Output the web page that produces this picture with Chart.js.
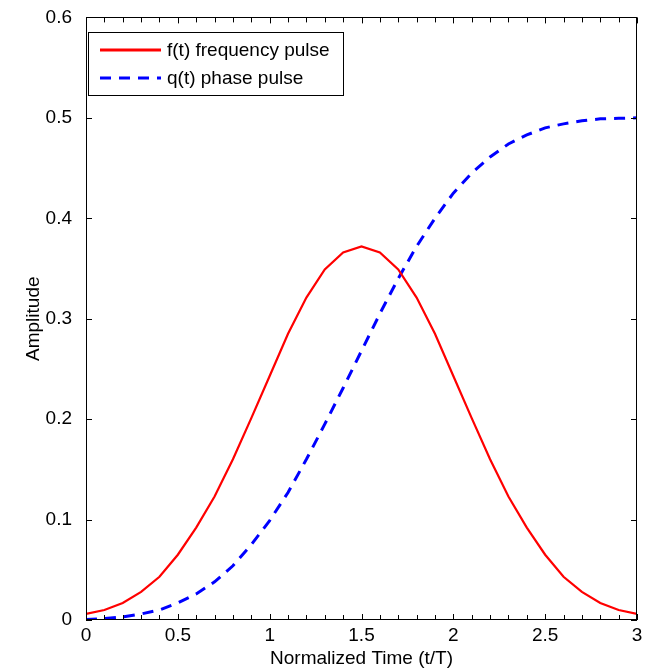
<!DOCTYPE html>
<html>
<head>
<meta charset="utf-8">
<script src="https://cdn.jsdelivr.net/npm/chart.js@4"></script>
<style>
  html, body { margin: 0; padding: 0; background: #fff; }
  canvas { display: block; }
</style>
</head>
<body>
<canvas id="chart" width="651" height="670"></canvas>
<script>
// normalized time t/T, sampled every 0.1
const times = [0, 0.1, 0.2, 0.3, 0.4, 0.5, 0.6, 0.7, 0.8, 0.9, 1, 1.1, 1.2, 1.3, 1.4, 1.5,
  1.6, 1.7, 1.8, 1.9, 2, 2.1, 2.2, 2.3, 2.4, 2.5, 2.6, 2.7, 2.8, 2.9, 3];

// f(t) frequency pulse
const freqPulse = [0.006, 0.010, 0.017, 0.028, 0.043, 0.065, 0.092, 0.123, 0.160, 0.201, 0.243,
  0.285, 0.321, 0.349, 0.366, 0.372, 0.366, 0.349, 0.321, 0.285, 0.243, 0.201, 0.160, 0.123,
  0.092, 0.065, 0.043, 0.028, 0.017, 0.010, 0.006];

// q(t) phase pulse
const phasePulse = [0.0005, 0.0014, 0.003, 0.006, 0.010, 0.017, 0.026, 0.038, 0.054, 0.075, 0.099,
  0.127, 0.160, 0.195, 0.231, 0.268, 0.305, 0.340, 0.372, 0.400, 0.425, 0.445, 0.461, 0.474,
  0.483, 0.490, 0.494, 0.497, 0.499, 0.4995, 0.5];

const seriesLabels = ['f(t) frequency pulse', 'q(t) phase pulse'];
const xTicks = [0, 0.5, 1, 1.5, 2, 2.5, 3];
const yTicks = [0, 0.1, 0.2, 0.3, 0.4, 0.5, 0.6];

const FONT = '"Liberation Sans", Arial, sans-serif';

// matlab style box: inward ticks on all four sides + legend box in the corner
const matlabFrame = {
  id: 'matlabFrame',
  afterDraw(chart) {
    const { ctx, chartArea: a, scales: { x, y } } = chart;
    ctx.save();
    ctx.strokeStyle = '#000';
    ctx.lineWidth = 1;
    ctx.beginPath();
    times.forEach(v => {
      const px = Math.round(x.getPixelForValue(v)) + 0.5;
      const len = xTicks.includes(v) ? 6 : 5;
      ctx.moveTo(px, a.bottom); ctx.lineTo(px, a.bottom - len);
      ctx.moveTo(px, a.top); ctx.lineTo(px, a.top + len);
    });
    yTicks.forEach(v => {
      const py = Math.round(y.getPixelForValue(v)) + 0.5;
      ctx.moveTo(a.left, py); ctx.lineTo(a.left + 6, py);
      ctx.moveTo(a.right, py); ctx.lineTo(a.right - 6, py);
    });
    ctx.stroke();
    ctx.strokeRect(Math.round(a.left) + 0.5, Math.round(a.top) + 0.5,
      Math.round(a.right - a.left) - 1, Math.round(a.bottom - a.top) - 1);

    // legend
    const lx = Math.round(a.left) + 2, ly = Math.round(a.top) + 15, lw = 255, lh = 63;
    ctx.fillStyle = '#fff';
    ctx.fillRect(lx, ly, lw, lh);
    ctx.strokeRect(lx + 0.5, ly + 0.5, lw, lh);
    chart.data.datasets.forEach((ds, i) => {
      const rowY = ly + 18 + i * 28;
      ctx.beginPath();
      ctx.strokeStyle = ds.borderColor;
      ctx.lineWidth = 3;
      ctx.setLineDash(ds.borderDash || []);
      ctx.moveTo(lx + 12, rowY);
      ctx.lineTo(lx + 73, rowY);
      ctx.stroke();
      ctx.setLineDash([]);
      ctx.fillStyle = '#000';
      ctx.font = '19px ' + FONT;
      ctx.textBaseline = 'middle';
      ctx.fillText(ds.label, lx + 79, rowY + 1);
    });
    ctx.restore();
  }
};

new Chart(document.getElementById('chart'), {
  type: 'line',
  data: {
    datasets: [
      {
        label: seriesLabels[0],
        data: times.map((t, i) => ({ x: t, y: freqPulse[i] })),
        borderColor: '#ff0000',
        borderWidth: 2.2,
        pointRadius: 0,
        tension: 0,
        fill: false
      },
      {
        label: seriesLabels[1],
        data: times.map((t, i) => ({ x: t, y: phasePulse[i] })),
        borderColor: '#0000ff',
        borderWidth: 3,
        borderDash: [11, 8],
        pointRadius: 0,
        tension: 0,
        fill: false
      }
    ]
  },
  options: {
    responsive: false,
    animation: false,
    devicePixelRatio: 1,
    layout: { padding: { top: 17, right: 14, left: 0, bottom: 0 } },
    plugins: {
      legend: { display: false },
      tooltip: { enabled: false }
    },
    scales: {
      x: {
        type: 'linear',
        min: 0,
        max: 3,
        grid: { display: false },
        border: { display: false },
        afterBuildTicks: s => { s.ticks = xTicks.map(v => ({ value: v })); },
        afterFit: s => { s.height = 50; },
        ticks: {
          color: '#000',
          font: { family: FONT, size: 19 },
          padding: -4,
          maxRotation: 0,
          autoSkip: false,
          callback: v => String(v)
        },
        title: {
          display: true,
          text: 'Normalized Time (t/T)',
          color: '#000',
          font: { family: FONT, size: 19 },
          padding: { top: 0, bottom: 0 }
        }
      },
      y: {
        min: 0,
        max: 0.6,
        grid: { display: false },
        border: { display: false },
        afterBuildTicks: s => { s.ticks = yTicks.map(v => ({ value: v })); },
        afterFit: s => { s.width = 86; },
        ticks: {
          color: '#000',
          font: { family: FONT, size: 19 },
          padding: 6,
          callback: v => String(v)
        },
        title: {
          display: true,
          text: 'Amplitude',
          color: '#000',
          font: { family: FONT, size: 19 },
          padding: { top: 22, bottom: 0 }
        }
      }
    }
  },
  plugins: [matlabFrame]
});
</script>
</body>
</html>
